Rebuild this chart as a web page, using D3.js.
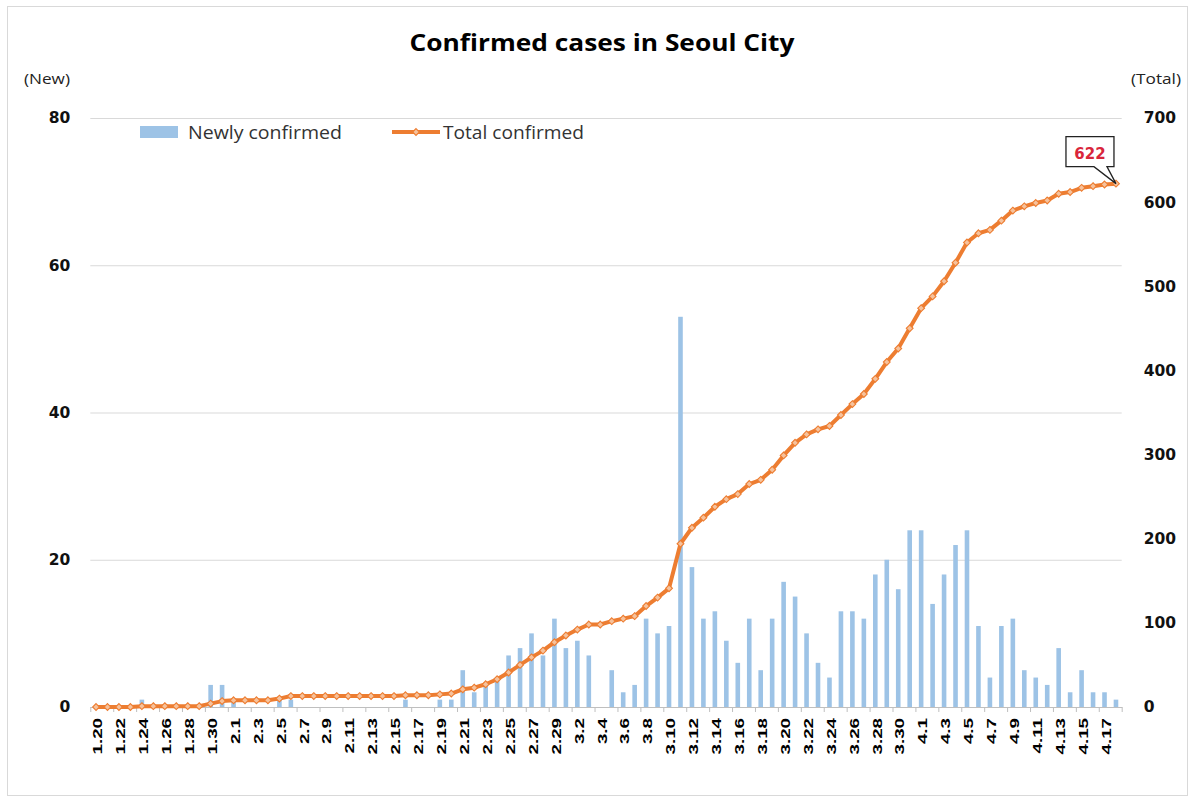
<!DOCTYPE html>
<html>
<head>
<meta charset="utf-8">
<script src="https://cdn.jsdelivr.net/npm/d3@7"></script>
<style>
  body { margin: 0; background: #fff; }
  svg { display: block; }
</style>
</head>
<body>
<script>
// data
const dates = [
  "1.20","1.21","1.22","1.23","1.24","1.25","1.26","1.27","1.28","1.29","1.30","1.31",
  "2.1","2.2","2.3","2.4","2.5","2.6","2.7","2.8","2.9","2.10","2.11","2.12","2.13","2.14","2.15",
  "2.16","2.17","2.18","2.19","2.20","2.21","2.22","2.23","2.24","2.25","2.26","2.27","2.28","2.29",
  "3.1","3.2","3.3","3.4","3.5","3.6","3.7","3.8","3.9","3.10","3.11","3.12","3.13","3.14","3.15",
  "3.16","3.17","3.18","3.19","3.20","3.21","3.22","3.23","3.24","3.25","3.26","3.27","3.28","3.29",
  "3.30","3.31",
  "4.1","4.2","4.3","4.4","4.5","4.6","4.7","4.8","4.9","4.10","4.11","4.12","4.13","4.14","4.15",
  "4.16","4.17","4.18"
];

const newCases = [
  0,0,0,0,1,0,0,0,0,0,3,3,
  1,0,0,0,1,1,0,0,0,0,0,0,0,0,0,1,0,0,1,1,5,2,3,4,7,8,10,7,12,
  8,9,7,0,5,2,3,12,10,11,53,19,12,13,9,6,12,5,12,17,15,10,6,4,13,13,12,18,20,16,24,
  24,14,18,22,24,11,4,11,12,5,4,3,8,2,5,2,2,1
];

const totalCases = [
  0,0,0,0,1,1,1,1,1,1,4,7,
  8,8,8,8,10,13,13,13,13,13,13,13,13,13,13,14,14,14,15,16,21,23,27,33,41,50,59,67,77,
  85,92,98,98,102,105,108,120,130,141,194,213,225,238,247,253,265,270,282,299,314,324,330,334,347,360,372,390,410,426,450,
  474,488,506,528,552,563,567,578,590,595,599,602,610,612,617,619,621,622
];

const xTickLabels = [
  "1.20","1.22","1.24","1.26","1.28","1.30","2.1","2.3","2.5","2.7","2.9","2.11","2.13","2.15",
  "2.17","2.19","2.21","2.23","2.25","2.27","2.29","3.2","3.4","3.6","3.8","3.10","3.12","3.14",
  "3.16","3.18","3.20","3.22","3.24","3.26","3.28","3.30","4.1","4.3","4.5","4.7","4.9","4.11",
  "4.13","4.15","4.17"
];
const leftTicks = [0, 20, 40, 60, 80];
const rightTicks = [0, 100, 200, 300, 400, 500, 600, 700];
const seriesNames = ["Newly confirmed", "Total confirmed"];

const width = 1194, height = 802;
const plot = { left: 90.3, right: 1121.7, top: 118, bottom: 707 };
const barColor = "#9dc3e6", lineColor = "#ed7d31";

const svg = d3.select("body").append("svg")
  .attr("width", width)
  .attr("height", height)
  .style("font-family", "'Open Sans', sans-serif");

// outer border
svg.append("rect")
  .attr("x", 7.5).attr("y", 6.5)
  .attr("width", 1180).attr("height", 789)
  .attr("fill", "#fff").attr("stroke", "#d9d9d9");

// scales
const x = d3.scaleBand().domain(dates).range([plot.left, plot.right]);
const xEdge = d3.scaleLinear().domain([0, dates.length]).range([plot.left, plot.right]);
const yL = d3.scaleLinear().domain([0, 80]).range([plot.bottom, plot.top]);
const yR = d3.scaleLinear().domain([0, 700]).range([plot.bottom, plot.top]);
const bw = x.bandwidth();

// gridlines
svg.append("g")
  .attr("transform", `translate(${plot.left},0)`)
  .call(d3.axisLeft(yL).tickValues(leftTicks).tickSize(-(plot.right - plot.left)).tickFormat(""))
  .call(g => g.select(".domain").remove())
  .call(g => g.selectAll("line").attr("stroke", "#d9d9d9"));

// bars
const barW = 4.6;
svg.append("g").selectAll("rect")
  .data(newCases)
  .join("rect")
  .attr("x", (d, i) => x(dates[i]) + (bw - barW) / 2)
  .attr("y", d => yL(d))
  .attr("width", barW)
  .attr("height", d => yL(0) - yL(d))
  .attr("fill", barColor);

// x axis line + tick marks every 2 days
svg.append("g")
  .attr("transform", `translate(0,${plot.bottom})`)
  .call(d3.axisBottom(xEdge).tickValues(d3.range(0, dates.length + 1, 2)).tickSize(5).tickFormat("").tickSizeOuter(0))
  .call(g => g.select(".domain").attr("stroke", "#bfbfbf"))
  .call(g => g.selectAll("line").attr("stroke", "#bfbfbf"));

// x labels (rotated)
svg.append("g")
  .attr("transform", `translate(0,${plot.bottom})`)
  .call(d3.axisBottom(x).tickValues(xTickLabels).tickSize(0))
  .call(g => g.select(".domain").remove())
  .call(g => g.selectAll("text")
    .attr("x", 0).attr("y", 0).attr("dy", "0.36em")
    .attr("transform", "translate(1.5,11) rotate(-90) scale(1.42,1)")
    .attr("text-anchor", "end")
    .attr("fill", "#000")
    .style("font-family", "'Liberation Sans', Arial, sans-serif")
    .style("font-weight", "bold")
    .style("font-size", "13.2px"));

// left axis
svg.append("g")
  .attr("transform", `translate(${plot.left},0)`)
  .call(d3.axisLeft(yL).tickValues(leftTicks).tickSize(0).tickPadding(20))
  .call(g => g.select(".domain").remove())
  .call(g => g.selectAll("text")
    .attr("fill", "#111")
    .style("font-family", "'DejaVu Sans', sans-serif")
    .style("font-weight", "bold")
    .style("font-size", "15.5px"));

// right axis
svg.append("g")
  .attr("transform", `translate(${plot.right},0)`)
  .call(d3.axisRight(yR).tickValues(rightTicks).tickSize(0).tickPadding(22))
  .call(g => g.select(".domain").remove())
  .call(g => g.selectAll("text")
    .attr("fill", "#111")
    .style("font-family", "'DejaVu Sans', sans-serif")
    .style("font-weight", "bold")
    .style("font-size", "15.5px"));

// total line
const line = d3.line()
  .x((d, i) => x(dates[i]) + bw / 2)
  .y(d => yR(d));

svg.append("path")
  .datum(totalCases)
  .attr("d", line)
  .attr("fill", "none")
  .attr("stroke", lineColor)
  .attr("stroke-width", 4)
  .attr("stroke-linejoin", "round");

const diamond = "M0,-3.4L3.4,0L0,3.4L-3.4,0Z";
svg.append("g").selectAll("path")
  .data(totalCases)
  .join("path")
  .attr("d", diamond)
  .attr("transform", (d, i) => `translate(${x(dates[i]) + bw / 2},${yR(d)})`)
  .attr("fill", "#f6c29c")
  .attr("stroke", lineColor)
  .attr("stroke-width", 1.1);

// title + axis titles
svg.append("text")
  .attr("x", 602).attr("y", 51)
  .attr("text-anchor", "middle")
  .attr("textLength", 385)
  .attr("lengthAdjust", "spacingAndGlyphs")
  .style("font-size", "23px").style("font-weight", "bold")
  .attr("fill", "#000")
  .text("Confirmed cases in Seoul City");

svg.append("text")
  .attr("x", 24).attr("y", 84)
  .attr("textLength", 46)
  .attr("lengthAdjust", "spacingAndGlyphs")
  .style("font-size", "14.5px")
  .attr("fill", "#222")
  .text("(New)");

svg.append("text")
  .attr("x", 1131).attr("y", 84)
  .attr("textLength", 50)
  .attr("lengthAdjust", "spacingAndGlyphs")
  .style("font-size", "14.5px")
  .attr("fill", "#222")
  .text("(Total)");

// legend
const legend = svg.append("g");
legend.append("rect")
  .attr("x", 140).attr("y", 126)
  .attr("width", 38).attr("height", 12)
  .attr("fill", barColor);
legend.append("text")
  .attr("x", 188).attr("y", 139)
  .attr("textLength", 154)
  .attr("lengthAdjust", "spacingAndGlyphs")
  .style("font-size", "17.5px")
  .attr("fill", "#333")
  .text(seriesNames[0]);
legend.append("line")
  .attr("x1", 392).attr("x2", 440)
  .attr("y1", 132).attr("y2", 132)
  .attr("stroke", lineColor).attr("stroke-width", 4);
legend.append("path")
  .attr("d", diamond)
  .attr("transform", "translate(416,132)")
  .attr("fill", "#f6c29c")
  .attr("stroke", lineColor)
  .attr("stroke-width", 1.1);
legend.append("text")
  .attr("x", 443).attr("y", 139)
  .attr("textLength", 141)
  .attr("lengthAdjust", "spacingAndGlyphs")
  .style("font-size", "17.5px")
  .attr("fill", "#333")
  .text(seriesNames[1]);

// callout on the last point
const lastI = totalCases.length - 1;
const px = x(dates[lastI]) + bw / 2, py = yR(totalCases[lastI]);
const bx0 = px - 50, bx1 = px - 2, by0 = py - 47, by1 = py - 17;
svg.append("path")
  .attr("d", `M${bx0},${by0}H${bx1}V${by1}H${px - 9}L${px},${py}L${px - 22},${by1}H${bx0}Z`)
  .attr("fill", "#fff")
  .attr("stroke", "#222")
  .attr("stroke-width", 1.3);
svg.append("text")
  .attr("x", (bx0 + bx1) / 2).attr("y", by1 - 8)
  .attr("text-anchor", "middle")
  .style("font-family", "'DejaVu Sans', sans-serif")
  .style("font-size", "15px").style("font-weight", "bold")
  .attr("fill", "#d9263b")
  .text(totalCases[lastI]);
</script>
</body>
</html>
